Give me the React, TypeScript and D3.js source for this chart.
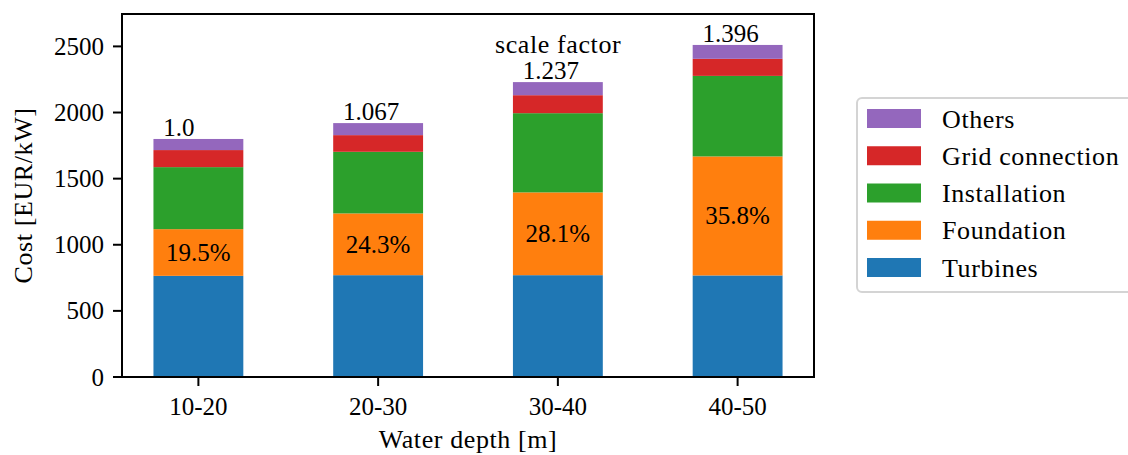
import React from "react";
import * as d3 from "d3";

// water depth classes
const categories = ["10-20", "20-30", "30-40", "40-50"];

// cost components [EUR/kW], bottom to top
const turbines = [765, 770, 770, 768];
const foundation = [353, 467, 626, 900];
const installation = [469, 466, 599, 609];
const gridConnection = [129, 126, 136, 129];
const others = [84, 91, 99, 105];

const seriesNames = ["Turbines", "Foundation", "Installation", "Grid connection", "Others"];
const seriesColors = ["#1f77b4", "#ff7f0e", "#2ca02c", "#d62728", "#9467bd"];

const scaleFactors = ["1.0", "1.067", "1.237", "1.396"];
const foundationShare = ["19.5%", "24.3%", "28.1%", "35.8%"];
const yTicks = [0, 500, 1000, 1500, 2000, 2500];

const W = 1128;
const H = 455;
const margin = { left: 122, right: 314, top: 14, bottom: 78 };
const FONT = "'Liberation Serif', 'Times New Roman', serif";
// words in the reference font run wider than Liberation Serif
const wordStyle = { fontSize: 26, letterSpacing: 0.6 };

export default function App() {
  const table = categories.map((c, i) => ({
    cat: c,
    Turbines: turbines[i],
    Foundation: foundation[i],
    Installation: installation[i],
    "Grid connection": gridConnection[i],
    Others: others[i],
  }));
  const stacked = d3.stack<any>().keys(seriesNames)(table);

  const x = d3
    .scaleLinear()
    .domain([-0.425, categories.length - 0.575])
    .range([margin.left, W - margin.right]);
  const y = d3
    .scaleLinear()
    .domain([0, 2745])
    .range([H - margin.bottom, margin.top]);
  const barW = x(0.5) - x(0);

  const x0 = margin.left;
  const x1 = W - margin.right;
  const y0 = H - margin.bottom;
  const y1 = margin.top;

  return (
    <svg
      width={W}
      height={H}
      style={{ position: "absolute", left: 0, top: 0, background: "#fff" }}
      fontFamily={FONT}
      fontSize={25}
    >
      {/* bars */}
      {stacked.map((s, si) => (
        <g key={s.key} fill={seriesColors[si]}>
          {s.map((d, i) => (
            <rect
              key={i}
              x={x(i) - barW / 2}
              y={y(d[1])}
              width={barW}
              height={y(d[0]) - y(d[1])}
            />
          ))}
        </g>
      ))}

      {/* foundation share labels */}
      {stacked[1].map((d, i) => (
        <text
          key={i}
          x={x(i)}
          y={(y(d[0]) + y(d[1])) / 2}
          textAnchor="middle"
          dominantBaseline="central"
        >
          {foundationShare[i]}
        </text>
      ))}

      {/* scale factor labels */}
      {stacked[4].map((d, i) => (
        <text key={i} x={x(i - 0.195)} y={y(d[1]) - 3}>
          {scaleFactors[i]}
        </text>
      ))}
      <text x={x(1.65)} y={y(stacked[4][2][1]) - 29} style={wordStyle}>
        scale factor
      </text>

      {/* frame */}
      <rect
        x={x0}
        y={y1}
        width={x1 - x0}
        height={y0 - y1}
        fill="none"
        stroke="#000"
        strokeWidth={2}
      />

      {/* y axis */}
      {yTicks.map((t) => (
        <g key={t}>
          <line x1={x0 - 9} x2={x0} y1={y(t)} y2={y(t)} stroke="#000" strokeWidth={2} />
          <text x={x0 - 18} y={y(t)} textAnchor="end" dominantBaseline="central">
            {t}
          </text>
        </g>
      ))}
      <text
        transform={`translate(32,${(y0 + y1) / 2}) rotate(-90)`}
        textAnchor="middle"
        style={wordStyle}
      >
        Cost [EUR/kW]
      </text>

      {/* x axis */}
      {categories.map((c, i) => (
        <g key={c}>
          <line x1={x(i)} x2={x(i)} y1={y0} y2={y0 + 9} stroke="#000" strokeWidth={2} />
          <text x={x(i)} y={y0 + 38} textAnchor="middle">
            {c}
          </text>
        </g>
      ))}
      <text x={(x0 + x1) / 2} y={448} textAnchor="middle" style={wordStyle}>
        Water depth [m]
      </text>

      {/* legend */}
      <rect
        x={857}
        y={98}
        width={290}
        height={194}
        rx={5}
        fill="#fff"
        stroke="#d4d4d4"
        strokeWidth={2}
      />
      {seriesNames
        .slice()
        .reverse()
        .map((name, k) => {
          const si = seriesNames.length - 1 - k;
          const cy = 118.5 + k * 37.25;
          return (
            <g key={name}>
              <rect x={867} y={cy - 9.5} width={54} height={19} fill={seriesColors[si]} />
              <text x={942} y={cy + 9} style={wordStyle}>
                {name}
              </text>
            </g>
          );
        })}
    </svg>
  );
}
